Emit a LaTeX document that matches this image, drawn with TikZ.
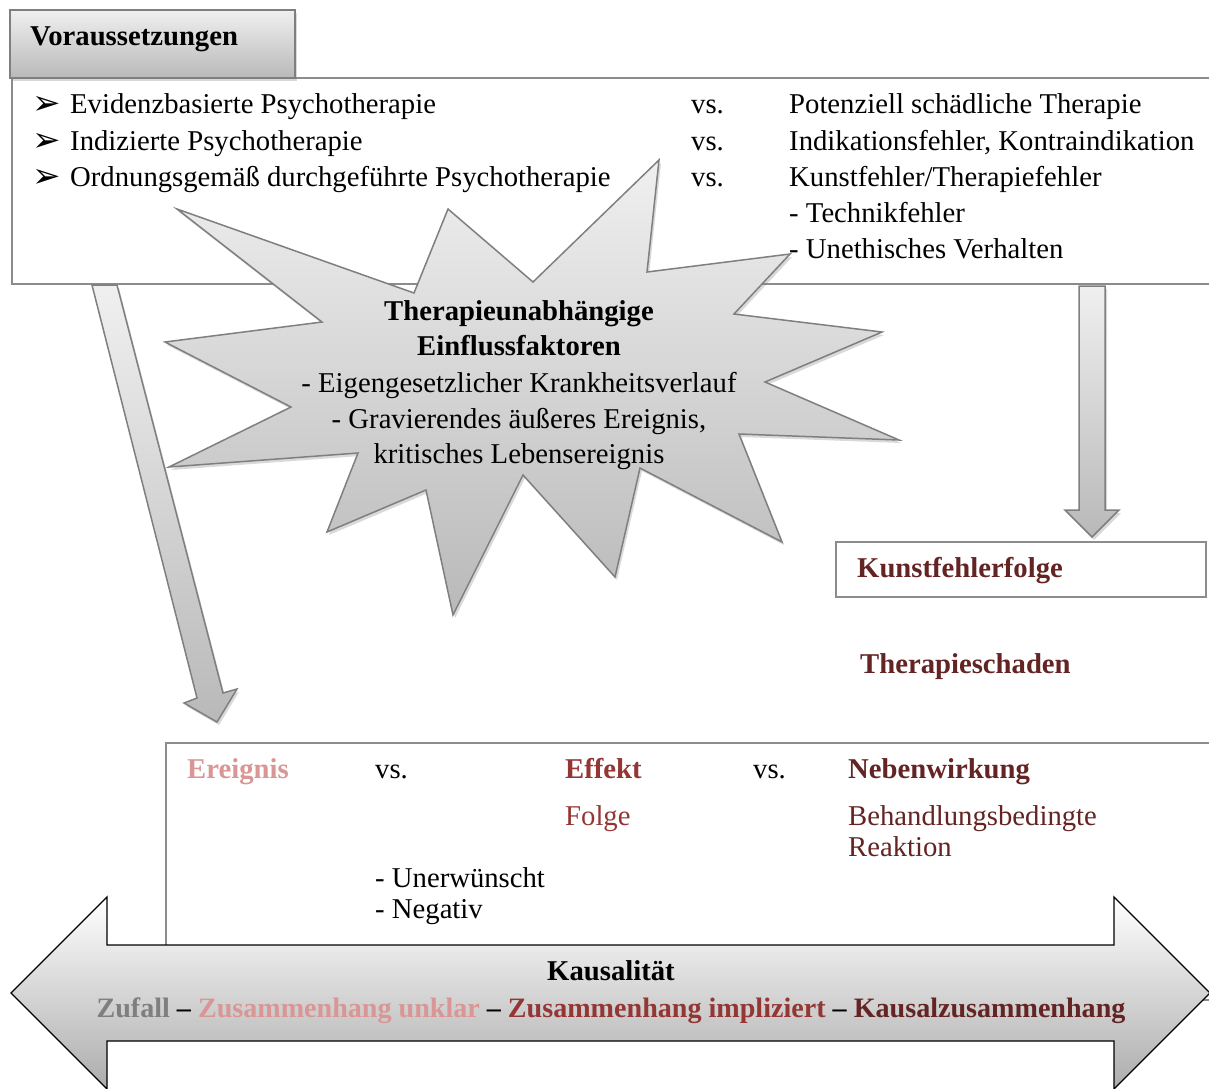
\documentclass[tikz,border=0pt]{standalone}
\usepackage{fontspec}
\setmainfont{Liberation Serif}
\newfontfamily\symfont{DejaVu Sans}
\usetikzlibrary{shadows}

\definecolor{framegray}{HTML}{8C8C8C}
\definecolor{edgegray}{HTML}{7F7F7F}
\definecolor{zufallgray}{HTML}{7F7F7F}
\definecolor{lightred}{HTML}{D99694}
\definecolor{midred}{HTML}{943634}
\definecolor{darkred}{HTML}{632423}

\tikzset{
  frame/.style = {draw = framegray, line width = 1.2pt, fill = white},
  plate/.style = {draw = edgegray, line width = 1.5pt, top color = gray!12, bottom color = gray!55,
                  drop shadow = {opacity = 0.3, shadow xshift = 2pt, shadow yshift = -3pt}},
  bigarrow/.style = {draw = black, line width = 1.3pt, top color = white, bottom color = gray!65},
  txt/.style = {anchor = base west, inner sep = 0pt, font = \fontsize{28.7}{35}\selectfont},
  ctxt/.style = {anchor = base, inner sep = 0pt, font = \fontsize{28.7}{35}\selectfont},
  bullet/.style = {anchor = base west, inner sep = 0pt, font = \symfont\fontsize{34}{36}\selectfont}
}

\begin{document}
\begin{tikzpicture}[x = 1pt, y = -1pt]

  \useasboundingbox (0, 0) rectangle (1209, 1088);
  \clip (0, 0) rectangle (1209, 1088);

  % Boxes
  \draw[frame] (12, 78) rectangle (1230, 284);
  \draw[plate] (10, 10) rectangle (295, 78);

  % Heading
  \node[txt, font = \fontsize{28.7}{35}\selectfont\bfseries] (voraus) at (30, 45) {Voraussetzungen};

  % Conditions
  \node[bullet] (b1) at (32, 114) {➢};
  \node[bullet] (b2) at (32, 151) {➢};
  \node[bullet] (b3) at (32, 187) {➢};
  \node[txt] (evid) at (70, 113) {Evidenzbasierte Psychotherapie};
  \node[txt] (indi) at (70, 150) {Indizierte Psychotherapie};
  \node[txt] (ordn) at (70, 186) {Ordnungsgemäß durchgeführte Psychotherapie};
  \node[txt] (vs1) at (691, 113) {vs.};
  \node[txt] (vs2) at (691, 150) {vs.};
  \node[txt] (vs3) at (691, 186) {vs.};
  \node[txt] (schaed) at (789, 113) {Potenziell schädliche Therapie};
  \node[txt] (indfehl) at (789, 150) {Indikationsfehler, Kontraindikation};
  \node[txt] (kunst) at (789, 186) {Kunstfehler/Therapiefehler};
  \node[txt] (technik) at (789, 222) {- Technikfehler};
  \node[txt] (uneth) at (789, 258) {- Unethisches Verhalten};

  % Star
  \draw[plate] (177, 209) -- (322, 322) -- (165, 342) -- (291, 407) -- (169, 467) -- (358, 453)
    -- (327, 532) -- (426, 490) -- (453, 615) -- (523, 475) -- (615, 577) -- (640, 468)
    -- (782, 542) -- (739, 434) -- (899, 440) -- (765, 382) -- (882, 332) -- (734, 314)
    -- (790, 254) -- (647, 272) -- (659, 160) -- (533, 282) -- (448, 209) -- (414, 293) -- cycle;
  \node[ctxt, font = \fontsize{28.7}{35}\selectfont\bfseries] (star1) at (519, 320) {Therapieunabhängige};
  \node[ctxt, font = \fontsize{28.7}{35}\selectfont\bfseries] (star2) at (519, 355) {Einflussfaktoren};
  \node[ctxt] (star3) at (519, 392) {- Eigengesetzlicher Krankheitsverlauf};
  \node[ctxt] (star4) at (519, 428) {- Gravierendes äußeres Ereignis,};
  \node[ctxt] (star5) at (519, 463) {kritisches Lebensereignis};

  % Arrows
  \draw[plate] (92, 285) -- (117, 285) -- (223, 693) -- (237, 689) -- (217, 722)
    -- (184, 703) -- (197, 698) -- cycle;
  \draw[plate] (1079, 286) -- (1105, 286) -- (1105, 510) -- (1119, 510) -- (1092, 537)
    -- (1065, 510) -- (1079, 510) -- cycle;

  % Consequences
  \draw[frame] (836, 542) rectangle (1206, 597);
  \node[txt, text = darkred, font = \fontsize{28.7}{35}\selectfont\bfseries] (kfolge) at (857, 577) {Kunstfehlerfolge};
  \node[txt, text = darkred, font = \fontsize{28.7}{35}\selectfont\bfseries] (schaden) at (860, 673) {Therapieschaden};

  % Lower box
  \draw[frame] (166, 743) rectangle (1230, 1000);
  \node[txt, text = lightred, font = \fontsize{28.7}{35}\selectfont\bfseries] (ereignis) at (187, 778) {Ereignis};
  \node[txt] (vs4) at (375, 778) {vs.};
  \node[txt, text = midred, font = \fontsize{28.7}{35}\selectfont\bfseries] (effekt) at (565, 778) {Effekt};
  \node[txt] (vs5) at (753, 778) {vs.};
  \node[txt, text = darkred, font = \fontsize{28.7}{35}\selectfont\bfseries] (nebenw) at (848, 778) {Nebenwirkung};
  \node[txt, text = midred] (folge) at (565, 825) {Folge};
  \node[txt, text = darkred] (behand) at (848, 825) {Behandlungsbedingte};
  \node[txt, text = darkred] (reakt) at (848, 856) {Reaktion};
  \node[txt] (unerw) at (375, 887) {- Unerwünscht};
  \node[txt] (negat) at (375, 918) {- Negativ};

  % Causality
  \draw[bigarrow] (11, 993) -- (107, 897) -- (107, 945) -- (1114, 945) -- (1114, 897)
    -- (1210, 993) -- (1114, 1089) -- (1114, 1041) -- (107, 1041) -- (107, 1089) -- cycle;
  \node[ctxt, font = \fontsize{28.7}{35}\selectfont\bfseries] (kausal) at (611, 980) {Kausalität};
  \node[ctxt, font = \fontsize{28.1}{35}\selectfont\bfseries] (skala) at (611, 1017)
    {\textcolor{zufallgray}{Zufall} – \textcolor{lightred}{Zusammenhang unklar} – \textcolor{midred}{Zusammenhang impliziert} – \textcolor{darkred}{Kausalzusammenhang}};

\end{tikzpicture}
\end{document}
